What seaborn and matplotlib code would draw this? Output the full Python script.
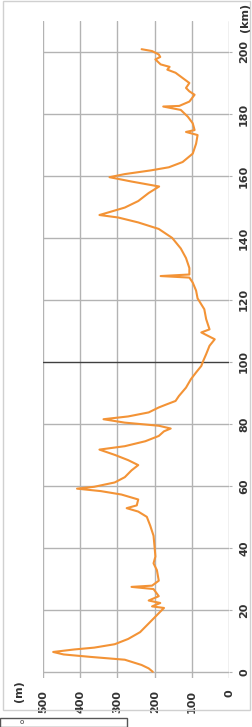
import matplotlib
matplotlib.use("Agg")
import matplotlib.pyplot as plt
import seaborn as sns
import pandas as pd
from matplotlib.patches import Rectangle

# elevation profile along the route
km = [0, 1.1, 2.2, 3.9, 4.8, 5.6, 6.4, 7.2, 7.8, 8.9, 10.6, 12.8, 15.6, 17.8,
      19.4, 20.6, 21.1, 22.2, 23.0, 24.4, 26.7, 27.4, 27.8, 29.4, 32.8, 35.0,
      37.2, 40.0, 43.9, 47.2, 50.0, 51.7, 52.8, 53.7, 55.6, 57.2, 58.3, 59.1,
      59.7, 61.1, 62.8, 65.0, 66.7, 68.3, 70.0, 71.7, 72.8, 74.4, 76.1, 77.6,
      78.5, 79.4, 80.4, 81.5, 82.4, 83.7, 85.3, 86.2, 87.4, 89.0, 91.7, 94.4,
      96.6, 98.7, 100.0, 102.5, 105.2, 107.3, 109.5, 110.5, 113.8, 117.0,
      120.5, 123.0, 125.6, 127.2, 127.7, 128.2, 130.3, 133.5, 136.6, 140.0,
      142.9, 145.0, 146.6, 147.4, 148.2, 149.8, 151.9, 154.5, 156.6, 158.2,
      159.6, 160.6, 161.8, 162.8, 164.5, 167.2, 170.4, 173.2, 174.2, 174.8,
      177.0, 179.1, 181.3, 182.4, 182.6, 184.0, 186.2, 187.3, 188.4, 190.0,
      191.6, 193.3, 194.3, 195.2, 196.0, 197.6, 198.4, 199.2, 200.3, 200.9]
elev = [205, 216, 235, 280, 371, 444, 472, 416, 362, 307, 271, 239, 216, 198,
        185, 175, 207, 185, 216, 189, 203, 262, 207, 189, 194, 203,
        198, 200, 203, 212, 221, 244, 275, 248, 244, 289, 344, 408,
        362, 307, 280, 262, 244, 271, 307, 348, 280, 225, 189, 175,
        157, 189, 280, 337, 271, 216, 189, 170, 144, 135, 116, 103,
        89, 75, 71, 62, 53, 39, 75, 53, 62, 67,
        85, 89, 98, 107, 184, 107, 107, 116, 130, 153,
        189, 244, 298, 348, 325, 280, 244, 216, 188, 262,
        321, 280, 210, 162, 125, 98, 89, 85, 116, 93,
        98, 111, 130, 177, 134, 107, 93, 107, 116, 107,
        125, 144, 166, 160, 184, 198, 185, 189, 207, 235]

elev_ticks = [0, 100, 200, 300, 400, 500]
km_ticks = [0, 20, 40, 60, 80, 100, 120, 140, 160, 180, 200]

df = pd.DataFrame({"km": km, "elev": elev})

W, H = 252, 727
sns.set_style("white")
plt.rcParams["font.family"] = ["DejaVu Sans"]

fig = plt.figure(figsize=(W / 100, H / 100), dpi=100)
ax = fig.add_axes([42.7 / W, 1 - 678 / H, (229.3 - 42.7) / W, (678 - 21) / H])

# grid first, darker line at 100 km
grid_c = "#b3b3b3"
for e in elev_ticks:
    ax.axvline(e, color=grid_c, lw=1, zorder=1)
for k in km_ticks:
    ax.axhline(k, color="#404040" if k == 100 else grid_c, lw=1, zorder=1)

sns.lineplot(data=df, x="elev", y="km", sort=False, estimator=None,
             color="#f39336", lw=1.5, ax=ax, zorder=3)

ax.set_xlim(500, 0)
ax.set_ylim(-2, 210)
for s in ax.spines.values():
    s.set_visible(False)

lab = dict(fontsize=8, fontweight="bold", color="#333333")
ax.set_xticks(elev_ticks)
ax.set_xticklabels([str(v) for v in elev_ticks], rotation=90, **lab)
ax.yaxis.tick_right()
ax.set_yticks(km_ticks)
ax.set_yticklabels([str(v) for v in km_ticks], rotation=90, va="center", **lab)
ax.tick_params(axis="x", length=0, pad=8.5)
ax.tick_params(axis="y", length=2.5, color=grid_c, pad=4.5)
ax.set_xlabel("")
ax.set_ylabel("")

fig.text(19 / W, 1 - 691 / H, "(m)", rotation=90, ha="center", va="center", **lab)
fig.text(245 / W, 1 - 17 / H, "(km)", rotation=90, ha="center", va="center", **lab)

# outer chart frame and the cut-off box below it
fig.patches.append(Rectangle((3 / W, 1 - 710 / H), 247 / W, 709 / H,
                             transform=fig.transFigure, fill=False,
                             edgecolor="#d0d0d0", lw=1))
fig.patches.append(Rectangle((0, 0), 127 / W, 9 / H,
                             transform=fig.transFigure, fill=False,
                             edgecolor="#555555", lw=1))
fig.text(22 / W, 1 - 722 / H, "o", ha="center", va="center", fontsize=5,
         color="#333333")

fig.savefig("out.png", dpi=100)
